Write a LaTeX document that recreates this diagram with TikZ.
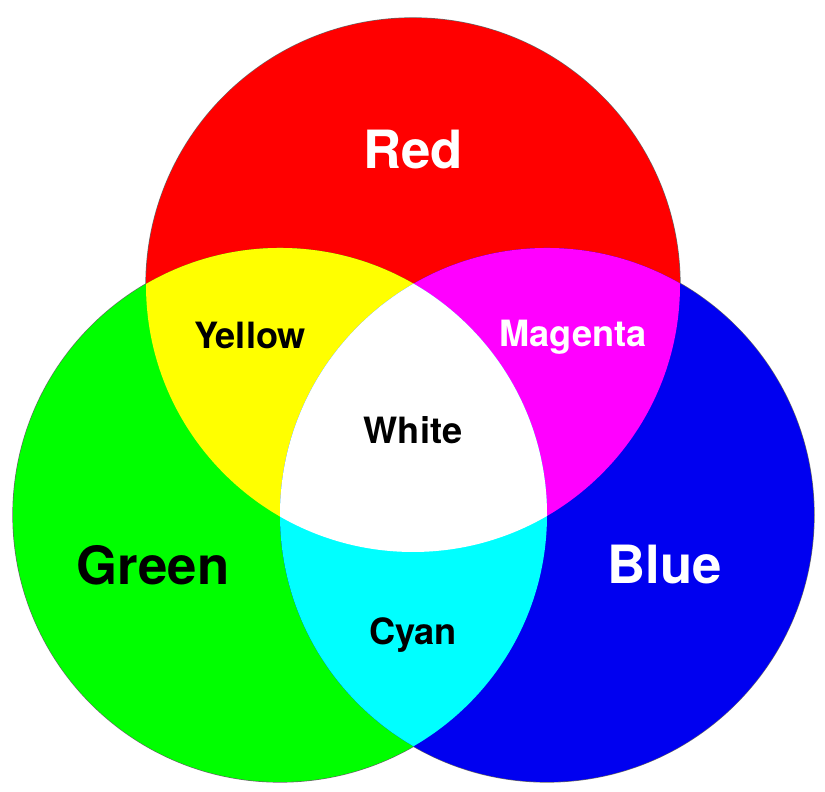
\documentclass[tikz,border=0pt]{standalone}
\usepackage{fontspec}
\setmainfont{TeX Gyre Heros}
\usetikzlibrary{positioning}

\definecolor{rgbred}{RGB}{255,0,0}
\definecolor{rgbgreen}{RGB}{0,255,0}
\definecolor{rgbblue}{RGB}{0,0,240}
\definecolor{rgbyellow}{RGB}{255,255,0}
\definecolor{rgbmagenta}{RGB}{255,0,255}
\definecolor{rgbcyan}{RGB}{0,255,255}

\tikzset{
  biglabel/.style={font=\fontsize{15}{18}\selectfont\bfseries},
  smalllabel/.style={font=\fontsize{10.3}{12}\selectfont\bfseries}
}

\begin{document}
\begin{tikzpicture}
\useasboundingbox (0,0) rectangle (8.25,7.92);

\coordinate (cr) at (4.13,5.07);
\coordinate (cg) at (2.80,2.77);
\coordinate (cb) at (5.47,2.77);
\def\rad{2.67}

%outline
\draw[black!60,line width=0.35pt] (cr) circle (\rad);
\draw[black!60,line width=0.35pt] (cg) circle (\rad);
\draw[black!60,line width=0.35pt] (cb) circle (\rad);

%primaries
\fill[rgbred] (cr) circle (\rad);
\fill[rgbgreen] (cg) circle (\rad);
\fill[rgbblue] (cb) circle (\rad);

%mixes
\begin{scope}
\clip (cr) circle (\rad);
\fill[rgbyellow] (cg) circle (\rad);
\fill[rgbmagenta] (cb) circle (\rad);
\end{scope}
\begin{scope}
\clip (cg) circle (\rad);
\fill[rgbcyan] (cb) circle (\rad);
\end{scope}
\begin{scope}
\clip (cr) circle (\rad);
\clip (cg) circle (\rad);
\fill[white] (cb) circle (\rad);
\end{scope}

%labels
\node[biglabel,white] (red) at (4.13,6.42) {Red};
\node[biglabel] (green) at (1.53,2.27) {Green};
\node[biglabel,white] (blue) at (6.65,2.27) {Blue};
\node[smalllabel] (yellow) at (2.50,4.57) {Yellow};
\node[smalllabel,white] (magenta) at (5.73,4.55) {Magenta};
\node[smalllabel] (whitelbl) at (4.13,3.62) {White};
\node[smalllabel] (cyanlbl) at (4.13,1.57) {Cyan};

\end{tikzpicture}
\end{document}
